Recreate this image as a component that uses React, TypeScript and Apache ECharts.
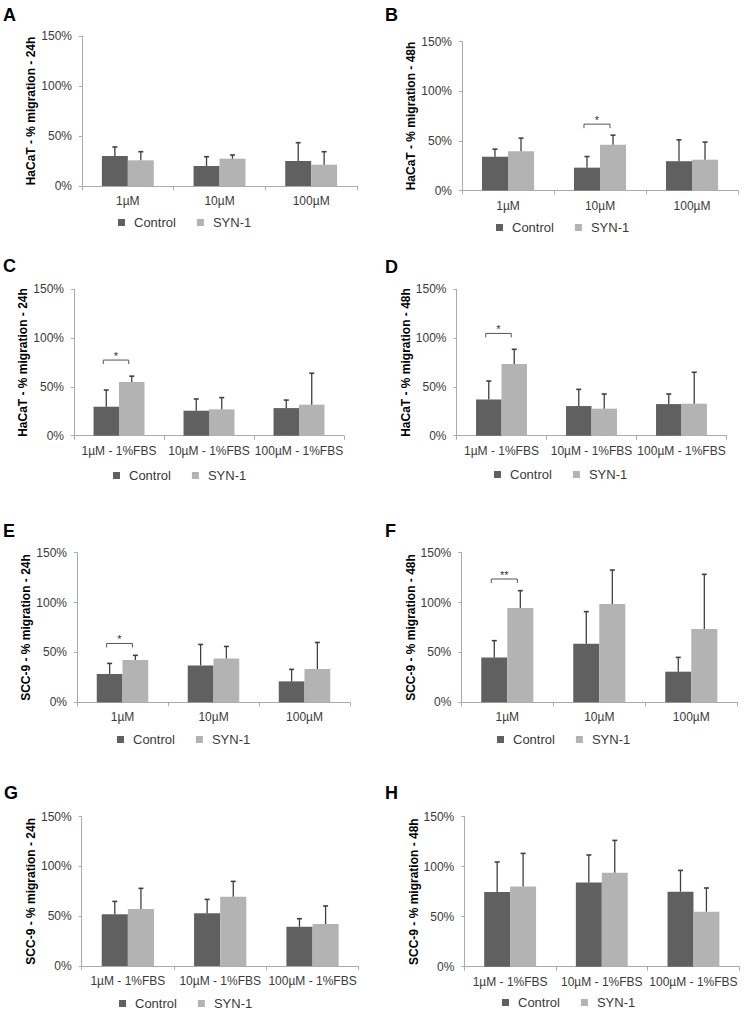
import React, { useEffect, useRef } from "react";
import * as echarts from "echarts";

// ---------- data ----------
const categoriesPlain = ["1µM", "10µM", "100µM"];
const categoriesFBS = ["1µM - 1%FBS", "10µM - 1%FBS", "100µM - 1%FBS"];
const seriesNames = ["Control", "SYN-1"];
const yMax = 150;
const yInterval = 50;

// A: HaCaT 24h
const controlA = [30, 20, 25];
const controlSdA = [9, 9.3, 18.3];
const synA = [25.7, 27.3, 21.3];
const synSdA = [8.6, 3.7, 13];

// B: HaCaT 48h
const controlB = [34, 23, 29.5];
const controlSdB = [7.6, 11.2, 21.5];
const synB = [39.6, 46, 31];
const synSdB = [13.1, 9.7, 17.7];

// C: HaCaT 24h, 1%FBS
const controlC = [29.7, 25.6, 28.3];
const controlSdC = [17.1, 12, 8.2];
const synC = [55, 27, 31.8];
const synSdC = [6, 12, 32.2];

// D: HaCaT 48h, 1%FBS
const controlD = [37.2, 30.4, 32.4];
const controlSdD = [18.8, 17.1, 10.3];
const synD = [73.4, 27.7, 32.8];
const synSdD = [15.1, 15, 32.2];

// E: SCC-9 24h
const controlE = [28.4, 37, 21];
const controlSdE = [10.6, 21, 12];
const synE = [42.4, 44, 33.4];
const synSdE = [4.7, 12, 26.6];

// F: SCC-9 48h
const controlF = [44.8, 58.8, 30.7];
const controlSdF = [17, 32.1, 14.3];
const synF = [94.6, 98.6, 73.5];
const synSdF = [17.3, 34, 54.8];

// G: SCC-9 24h, 1%FBS
const controlG = [51.9, 52.9, 39.5];
const controlSdG = [13, 14, 8];
const synG = [57.2, 69.6, 42.2];
const synSdG = [20.8, 15.4, 18.1];

// H: SCC-9 48h, 1%FBS
const controlH = [74.7, 84.3, 75];
const controlSdH = [30, 27.4, 21.3];
const synH = [80.3, 94, 55];
const synSdH = [33, 32.3, 23.7];

// significance: [category index, bracket level (%), label]
const sigB = [1, 66.8, "*"];
const sigC = [0, 77.5, "*"];
const sigD = [0, 104.8, "*"];
const sigE = [0, 59, "*"];
const sigF = [0, 123.6, "**"];

const letters = ["A", "B", "C", "D", "E", "F", "G", "H"];
const yTitles = [
  "HaCaT - % migration - 24h",
  "HaCaT - % migration - 48h",
  "HaCaT - % migration - 24h",
  "HaCaT - % migration - 48h",
  "SCC-9 - % migration - 24h",
  "SCC-9 - % migration - 48h",
  "SCC-9 - % migration - 24h",
  "SCC-9 - % migration - 48h",
];

const panelData = [
  { cats: categoriesPlain, c: controlA, cs: controlSdA, s: synA, ss: synSdA, sig: null },
  { cats: categoriesPlain, c: controlB, cs: controlSdB, s: synB, ss: synSdB, sig: sigB },
  { cats: categoriesFBS, c: controlC, cs: controlSdC, s: synC, ss: synSdC, sig: sigC },
  { cats: categoriesFBS, c: controlD, cs: controlSdD, s: synD, ss: synSdD, sig: sigD },
  { cats: categoriesPlain, c: controlE, cs: controlSdE, s: synE, ss: synSdE, sig: sigE },
  { cats: categoriesPlain, c: controlF, cs: controlSdF, s: synF, ss: synSdF, sig: sigF },
  { cats: categoriesFBS, c: controlG, cs: controlSdG, s: synG, ss: synSdG, sig: null },
  { cats: categoriesFBS, c: controlH, cs: controlSdH, s: synH, ss: synSdH, sig: null },
];

// ---------- layout / style ----------
const W = 744;
const H = 1013;
const FONT = "'Liberation Sans', Arial, sans-serif";
const COLOR_CONTROL = "#606060";
const COLOR_SYN = "#b3b3b3";
const AXIS_COLOR = "#ababab";
const LABEL_COLOR = "#3a3a3a";
const ERR_COLOR = "#404040";
const BAR_RATIO = 0.283;

const layouts = [
  { left: 82, top: 36, width: 275, height: 150, gap: 42, letter: [3, 6], legend: [118, 223] },
  { left: 462, top: 41.5, width: 276, height: 149, gap: 44, letter: [385, 6], legend: [496, 228] },
  { left: 74, top: 289.3, width: 270, height: 146.4, gap: 40, letter: [3, 257], legend: [113, 476] },
  { left: 456.5, top: 289.3, width: 270, height: 146.4, gap: 42.5, letter: [385, 258], legend: [494, 475] },
  { left: 77, top: 552.7, width: 273, height: 149.6, gap: 43, letter: [3, 522], legend: [117, 740] },
  { left: 461.3, top: 552.7, width: 276, height: 149.6, gap: 40.6, letter: [385, 522], legend: [497, 740] },
  { left: 81.7, top: 816.7, width: 277, height: 149.3, gap: 42, letter: [4, 784], legend: [119, 1004] },
  { left: 464.3, top: 816.7, width: 275, height: 150, gap: 42, letter: [385, 784], legend: [502, 1003] },
];

function buildOption() {
  const grid: any[] = [];
  const xAxis: any[] = [];
  const yAxis: any[] = [];
  const series: any[] = [];
  const legend: any[] = [];
  const graphic: any[] = [];

  panelData.forEach((p, i) => {
    const L = layouts[i];
    grid.push({ left: L.left, top: L.top, width: L.width, height: L.height, containLabel: false });
    xAxis.push({
      type: "category",
      gridIndex: i,
      data: p.cats,
      axisLine: { show: true, lineStyle: { color: AXIS_COLOR, width: 1 } },
      axisTick: { show: true, length: 4, alignWithLabel: false, lineStyle: { color: AXIS_COLOR } },
      axisLabel: { interval: 0, fontSize: 12, color: LABEL_COLOR, margin: 9, fontFamily: FONT },
      splitLine: { show: false },
    });
    yAxis.push({
      type: "value",
      gridIndex: i,
      min: 0,
      max: yMax,
      interval: yInterval,
      name: yTitles[i],
      nameLocation: "middle",
      nameGap: L.gap,
      nameTextStyle: { fontSize: 12, fontWeight: "bold", color: "#000", fontFamily: FONT },
      axisLine: { show: true, lineStyle: { color: AXIS_COLOR, width: 1 } },
      axisTick: { show: true, length: 3, lineStyle: { color: AXIS_COLOR } },
      axisLabel: { formatter: "{value}%", fontSize: 12, color: LABEL_COLOR, margin: 10, fontFamily: FONT },
      splitLine: { show: false },
    });

    series.push({
      type: "bar",
      name: seriesNames[0],
      xAxisIndex: i,
      yAxisIndex: i,
      data: p.c,
      barWidth: BAR_RATIO * 100 + "%",
      barGap: "0%",
      itemStyle: { color: COLOR_CONTROL },
    });
    series.push({
      type: "bar",
      name: seriesNames[1],
      xAxisIndex: i,
      yAxisIndex: i,
      data: p.s,
      barWidth: BAR_RATIO * 100 + "%",
      barGap: "0%",
      itemStyle: { color: COLOR_SYN },
    });

    const errData: number[][] = [];
    p.c.forEach((v, k) => errData.push([k, v, p.cs[k], 0]));
    p.s.forEach((v, k) => errData.push([k, v, p.ss[k], 1]));
    series.push({
      type: "custom",
      name: "err" + i,
      xAxisIndex: i,
      yAxisIndex: i,
      data: errData,
      encode: { x: 0, y: 1 },
      z: 5,
      silent: true,
      renderItem: (params: any, api: any) => {
        const cat = api.value(0);
        const mean = api.value(1);
        const sd = api.value(2);
        const side = api.value(3);
        const base = api.coord([cat, mean]);
        const top = api.coord([cat, mean + sd]);
        const band = api.size([1, 0])[0];
        const x = base[0] + (side === 0 ? -1 : 1) * (band * BAR_RATIO) / 2;
        const st = { stroke: ERR_COLOR, lineWidth: 1.3 };
        return {
          type: "group",
          children: [
            { type: "line", shape: { x1: x, y1: base[1], x2: x, y2: top[1] }, style: st },
            { type: "line", shape: { x1: x - 2.5, y1: top[1], x2: x + 2.5, y2: top[1] }, style: { stroke: ERR_COLOR, lineWidth: 1.6 } },
          ],
        };
      },
    });

    if (p.sig) {
      const label = p.sig[2] as string;
      series.push({
        type: "custom",
        name: "sig" + i,
        xAxisIndex: i,
        yAxisIndex: i,
        data: [[p.sig[0], p.sig[1]]],
        encode: { x: 0, y: 1 },
        z: 6,
        silent: true,
        renderItem: (params: any, api: any) => {
          const pt = api.coord([api.value(0), api.value(1)]);
          const band = api.size([1, 0])[0];
          const half = (band * BAR_RATIO) / 2;
          const x1 = pt[0] - half - 3;
          const x2 = pt[0] + half - 3;
          const y = pt[1];
          return {
            type: "group",
            children: [
              {
                type: "polyline",
                shape: { points: [[x1, y + 4], [x1, y], [x2, y], [x2, y + 4]] },
                style: { stroke: "#555", lineWidth: 1, fill: null },
              },
              {
                type: "text",
                x: (x1 + x2) / 2,
                y: y - 4,
                style: { text: label, fontSize: 11, fill: "#333", align: "center", verticalAlign: "middle", fontFamily: FONT },
              },
            ],
          };
        },
      });
    }

    legend.push({
      left: L.legend[0],
      top: L.legend[1] - 7,
      orient: "horizontal",
      data: seriesNames,
      icon: "rect",
      itemWidth: 7,
      itemHeight: 7,
      itemGap: 21,
      selectedMode: false,
      padding: 0,
      textStyle: { fontSize: 13, color: LABEL_COLOR, fontFamily: FONT, padding: [0, 0, 0, 4] },
    });

    graphic.push({
      type: "text",
      left: L.letter[0],
      top: L.letter[1],
      style: { text: letters[i], fontSize: 18, fontWeight: "bold", fill: "#000", fontFamily: FONT },
    });
  });

  return {
    animation: false,
    backgroundColor: "#fff",
    textStyle: { fontFamily: FONT },
    grid,
    xAxis,
    yAxis,
    series,
    legend,
    graphic,
  };
}

export default function App() {
  const ref = useRef<HTMLDivElement>(null);
  useEffect(() => {
    if (!ref.current) return;
    const chart = echarts.init(ref.current, undefined, { renderer: "svg" });
    chart.setOption(buildOption() as any);
    return () => chart.dispose();
  }, []);
  return (
    <div
      ref={ref}
      style={{ position: "absolute", left: 0, top: 0, width: W, height: H, background: "#fff" }}
    />
  );
}
